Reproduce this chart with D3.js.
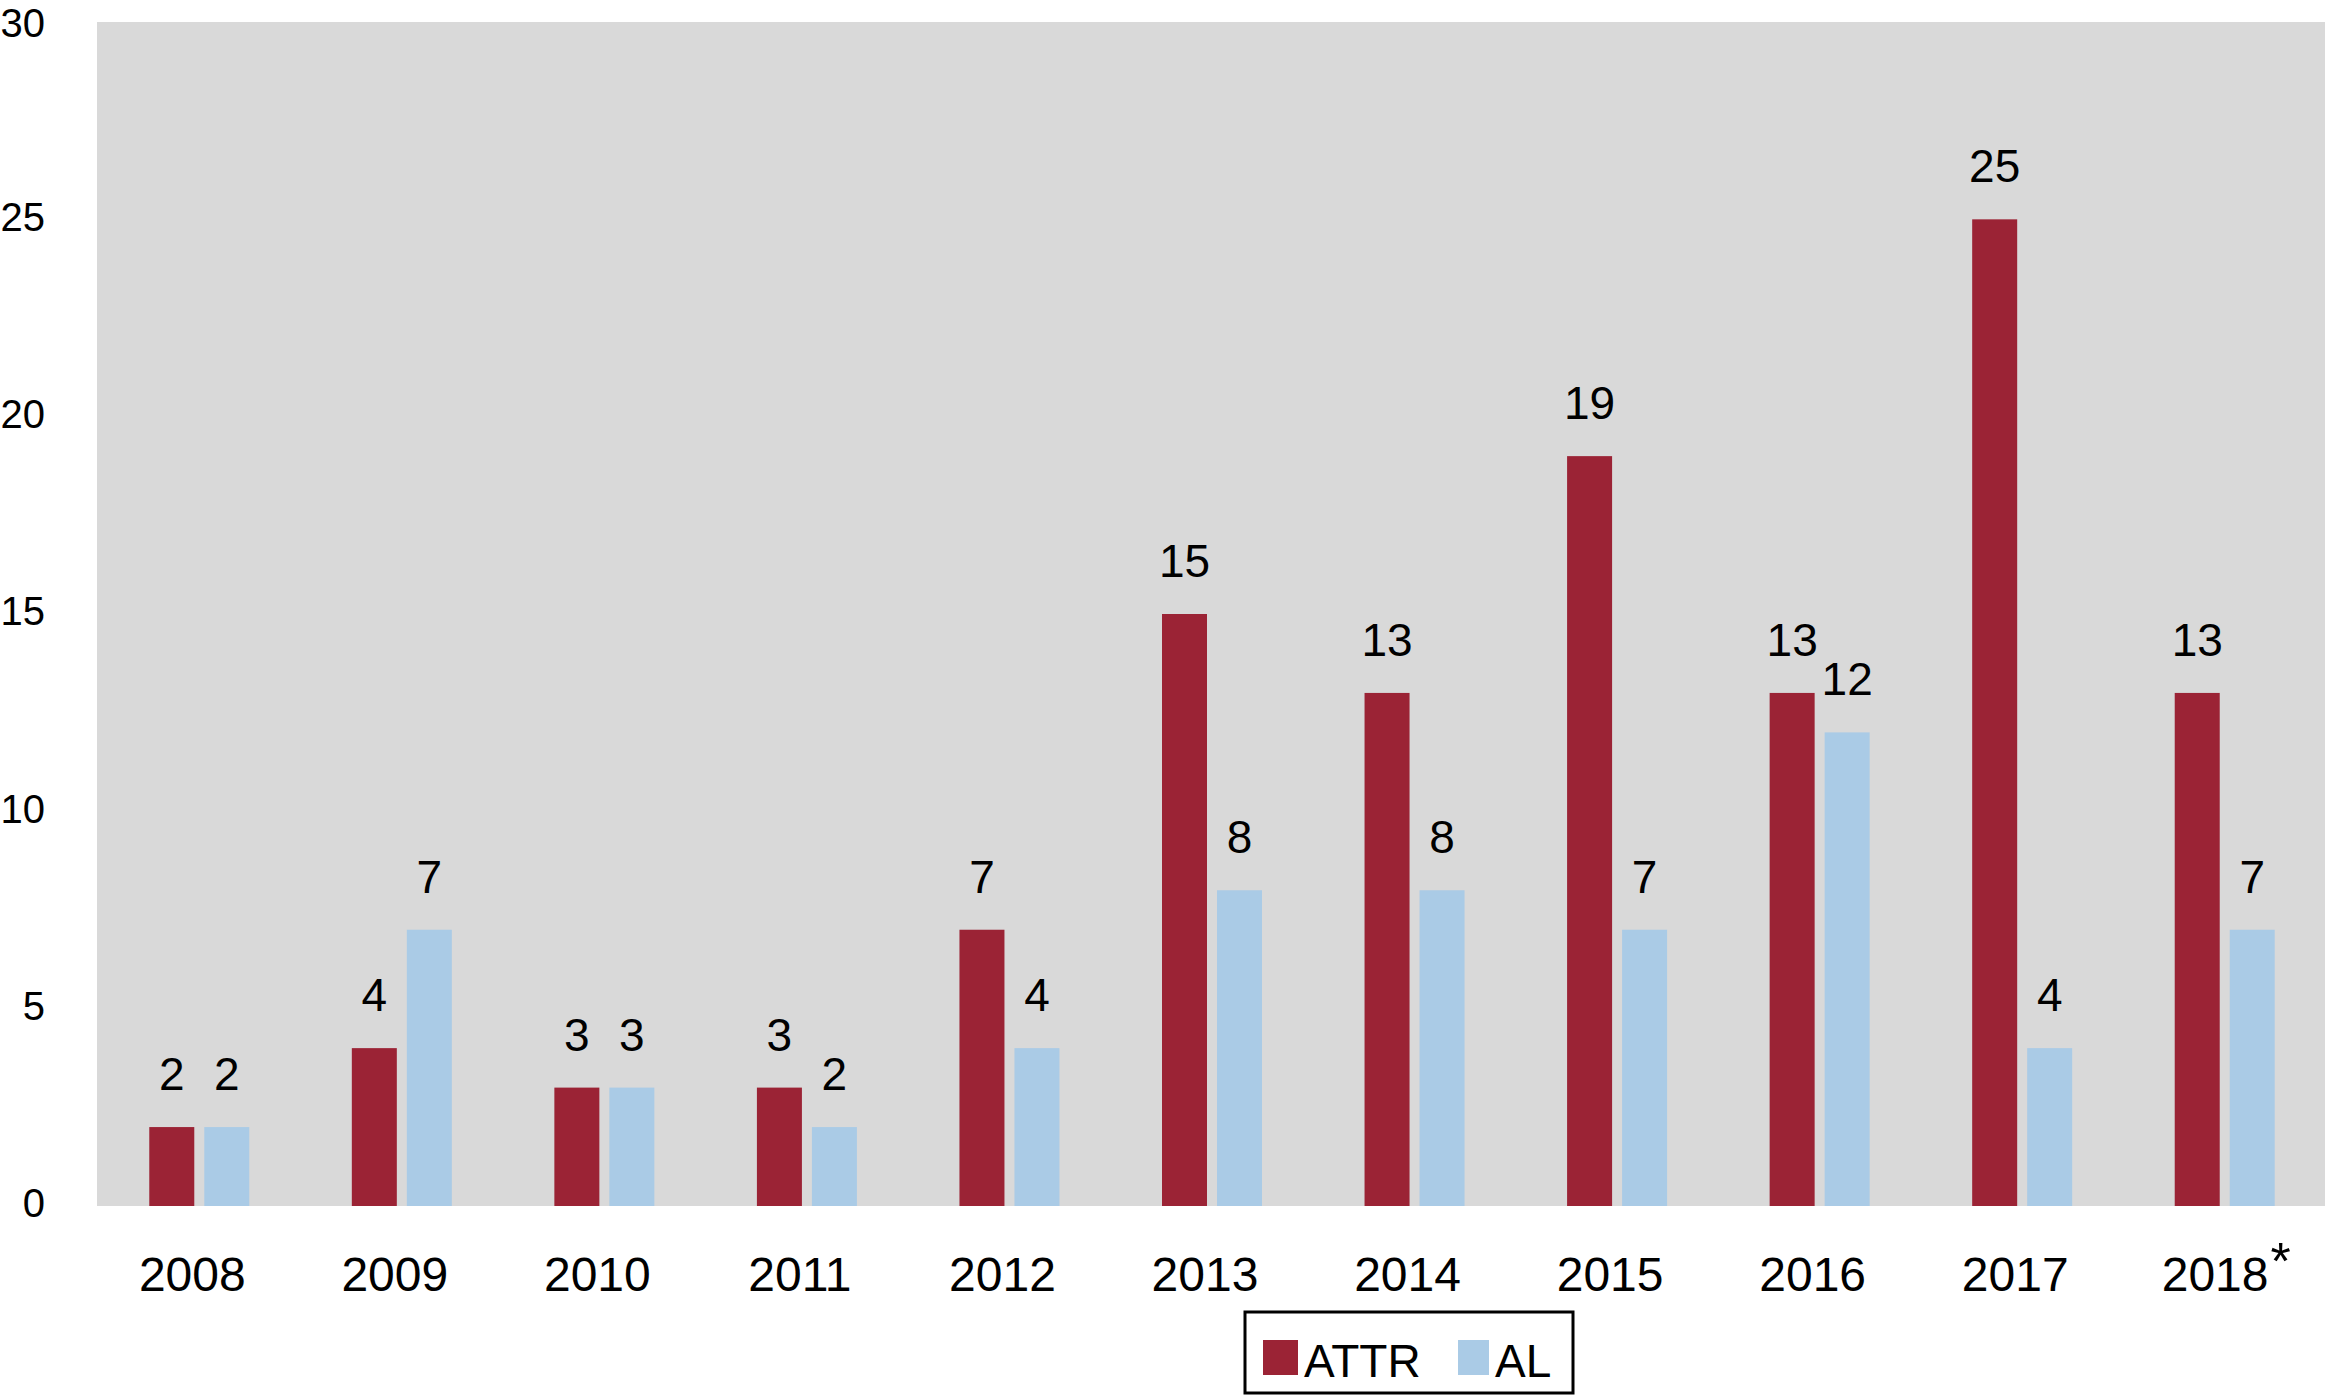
<!DOCTYPE html>
<html>
<head>
<meta charset="utf-8">
<script src="https://cdn.jsdelivr.net/npm/d3@7"></script>
<style>
  html, body { margin: 0; padding: 0; background: #fff; }
  svg { display: block; font-family: "Liberation Sans", Arial, Helvetica, sans-serif; }
</style>
</head>
<body>
<svg id="chart" width="2332" height="1395"></svg>
<script>
const years = ["2008","2009","2010","2011","2012","2013","2014","2015","2016","2017","2018"];
const attr = [2, 4, 3, 3, 7, 15, 13, 19, 13, 25, 13];
const al   = [2, 7, 3, 2, 4, 8, 8, 7, 12, 4, 7];
const yTicks = [0, 5, 10, 15, 20, 25, 30];
const seriesNames = ["ATTR", "AL"];
const colors = ["#9B2335", "#AACBE6"];

(function () {
const svg = d3.select("#chart");
const pLeft = 97, pRight = 2325, pTop = 22, pBottom = 1206;

const x = d3.scaleBand().domain(years).range([pLeft, pRight]).padding(0);
const y = d3.scaleLinear().domain([0, 30]).range([pBottom, pTop]);

// plot background
svg.append("rect")
  .attr("x", pLeft).attr("y", pTop)
  .attr("width", pRight - pLeft).attr("height", pBottom - pTop)
  .attr("fill", "#D9D9D9");

// y axis labels
const yAxis = d3.axisLeft(y).tickValues(yTicks).tickSize(0).tickPadding(0);
const gy = svg.append("g").attr("transform", `translate(45,0)`).call(yAxis);
gy.select(".domain").remove();
gy.selectAll("text")
  .attr("font-size", 40)
  .attr("fill", "#000")
  .attr("dy", d => d === 30 ? "0.36em" : "0.27em")
  .attr("font-family", "'Liberation Sans', Arial, sans-serif");

const barW = 45, gap = 5;
const data = years.map((yr, i) => ({ yr, vals: [attr[i], al[i]] }));

const groups = svg.append("g").selectAll("g").data(data).enter().append("g")
  .attr("transform", d => `translate(${x(d.yr) + x.bandwidth() / 2 + 1},0)`);

groups.selectAll("rect").data(d => d.vals.map((v, k) => ({ v, k }))).enter().append("rect")
  .attr("x", d => d.k === 0 ? -gap - barW : gap)
  .attr("y", d => y(d.v))
  .attr("width", barW)
  .attr("height", d => y(0) - y(d.v))
  .attr("fill", d => colors[d.k]);

groups.selectAll("text.val").data(d => d.vals.map((v, k) => ({ v, k }))).enter().append("text")
  .attr("class", "val")
  .attr("x", d => d.k === 0 ? -gap - barW / 2 : gap + barW / 2)
  .attr("y", d => y(d.v) - 37)
  .attr("text-anchor", "middle")
  .attr("font-size", 46)
  .attr("fill", "#000")
  .text(d => d.v);

// x axis labels
const xAxis = d3.axisBottom(x).tickSize(0).tickPadding(0);
const gx = svg.append("g").attr("transform", `translate(-6,${pBottom})`).call(xAxis);
gx.select(".domain").remove();
gx.selectAll("text")
  .attr("font-size", 48)
  .attr("fill", "#000")
  .attr("y", 85)
  .attr("dy", 0)
  .attr("font-family", "'Liberation Sans', Arial, sans-serif");
gx.selectAll(".tick").filter(d => d === "2018").select("text")
  .text(null)
  .call(t => {
    t.append("tspan").text("2018");
    t.append("tspan").attr("dx", 2).attr("dy", -12).attr("font-size", 52).text("*");
  })
  .attr("text-anchor", "start")
  .attr("x", -56);

// legend
const lg = svg.append("g");
lg.append("rect")
  .attr("x", 1245).attr("y", 1312).attr("width", 328).attr("height", 81)
  .attr("fill", "#fff").attr("stroke", "#000").attr("stroke-width", 3);
const legendItems = [
  { name: seriesNames[0], color: colors[0], sx: 1263, tx: 1304, w: 35 },
  { name: seriesNames[1], color: colors[1], sx: 1458, tx: 1495, w: 31 }
];
legendItems.forEach(it => {
  lg.append("rect").attr("x", it.sx).attr("y", 1340).attr("width", it.w).attr("height", 35).attr("fill", it.color);
  lg.append("text").attr("x", it.tx).attr("y", 1377).attr("font-size", 46).attr("fill", "#000").text(it.name);
});
})();
</script>
</body>
</html>
